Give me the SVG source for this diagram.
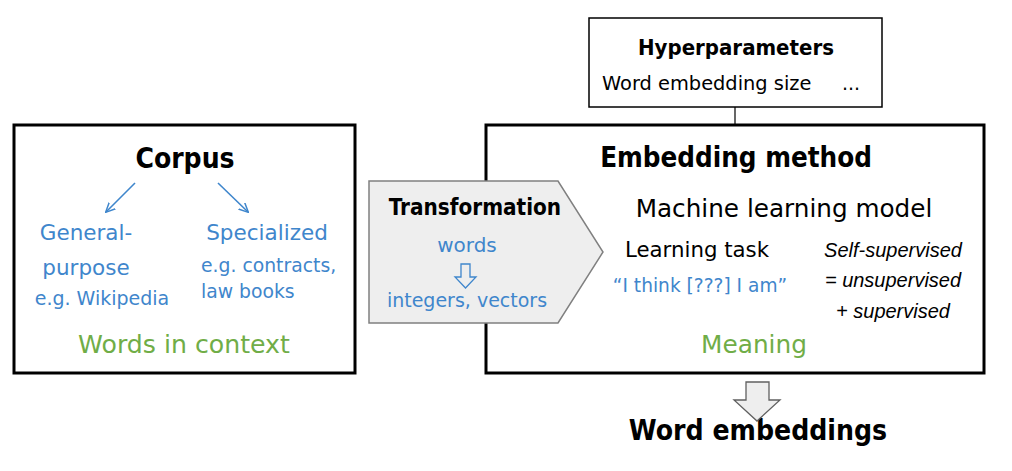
<svg xmlns="http://www.w3.org/2000/svg" width="1012" height="471" viewBox="0 0 1012 471">
<style>
text{font-family:"DejaVu Sans",sans-serif;}
.b{font-family:"DejaVu Sans Condensed","DejaVu Sans",sans-serif;font-weight:bold;fill:#000;}
.blue{fill:#3f86cc;}
.green{fill:#70ad47;}
.blk{fill:#000;}
.it{font-family:"Liberation Sans",Arial,sans-serif;font-style:italic;fill:#000;}
.box{fill:#fff;stroke:#000;stroke-width:3;}
</style>
<defs>
<marker id="ah" viewBox="0 0 10 10" refX="9" refY="5" markerWidth="10" markerHeight="10" orient="auto" markerUnits="userSpaceOnUse"><path d="M0,0.5 L9.5,5 L0,9.5" fill="none" stroke="#3f86cc" stroke-width="1.5"/></marker>
</defs>
<rect width="1012" height="471" fill="#fff"/>
<g id="corpus">
<rect class="box" x="14" y="125" width="341" height="248"/>
<text class="b" x="185" y="168" font-size="28" text-anchor="middle">Corpus</text>
<text class="blue" x="86" y="240" font-size="21.5" text-anchor="middle">General-</text>
<text class="blue" x="86" y="275" font-size="21.5" text-anchor="middle">purpose</text>
<text class="blue" x="102" y="305" font-size="19" text-anchor="middle">e.g. Wikipedia</text>
<text class="blue" x="267" y="240" font-size="21.5" text-anchor="middle">Specialized</text>
<text class="blue" x="201" y="272" font-size="18.8">e.g. contracts,</text>
<text class="blue" x="201" y="298" font-size="18.8">law books</text>
<text class="green" x="184" y="353" font-size="25.2" text-anchor="middle">Words in context</text>
</g>
<g id="embedding">
<rect class="box" x="486" y="125" width="498" height="248"/>
<text class="b" x="736" y="167" font-size="27.5" text-anchor="middle">Embedding method</text>
<text class="blk" x="784" y="217" font-size="24.7" text-anchor="middle">Machine learning model</text>
<text class="blk" x="697" y="257" font-size="21.3" text-anchor="middle">Learning task</text>
<text class="blue" x="700" y="292" font-size="18.6" text-anchor="middle">“I think [???] I am”</text>
<text class="it" x="893" y="257" font-size="20" text-anchor="middle">Self-supervised</text>
<text class="it" x="893" y="287" font-size="20" text-anchor="middle">= unsupervised</text>
<text class="it" x="893" y="318" font-size="20" text-anchor="middle">+ supervised</text>
<text class="green" x="754" y="353" font-size="24.8" text-anchor="middle">Meaning</text>
</g>
<g id="transformation">
<path d="M369,181 L558,181 L603,252 L558,323 L369,323 Z" fill="#eeeeee" stroke="#808080" stroke-width="1.5"/>
<text class="b" x="475" y="215" font-size="22.3" text-anchor="middle">Transformation</text>
<text class="blue" x="467" y="252" font-size="20" text-anchor="middle">words</text>
<path d="M461,264 L470,264 L470,277 L476,277 L465.5,288 L455,277 L461,277 Z" fill="none" stroke="#3f86cc" stroke-width="1.3"/>
<text class="blue" x="467" y="307" font-size="19" text-anchor="middle">integers, vectors</text>
</g>
<g id="hyperparameters">
<rect x="589" y="18" width="293" height="89" fill="#fff" stroke="#000" stroke-width="1.5"/>
<text class="b" x="736" y="55" font-size="22" text-anchor="middle">Hyperparameters</text>
<text class="blk" x="602" y="90" font-size="19.4">Word embedding size</text>
<text class="blk" x="842" y="90" font-size="19">...</text>
</g>
<g id="word-embeddings">
<text class="b" x="758" y="440" font-size="28.1" text-anchor="middle">Word embeddings</text>
</g>
<g id="connectors">
<line x1="735" y1="107" x2="735" y2="125" stroke="#000" stroke-width="1.2"/>
<line x1="135" y1="183" x2="106" y2="212" stroke="#3f86cc" stroke-width="1.6" marker-end="url(#ah)"/>
<line x1="218" y1="183" x2="248" y2="212" stroke="#3f86cc" stroke-width="1.6" marker-end="url(#ah)"/>
<path d="M746,382 L769,382 L769,400 L780,400 L757,421 L734,400 L746,400 Z" fill="#eeeeee" stroke="#606060" stroke-width="1.3"/>
</g>
</svg>
